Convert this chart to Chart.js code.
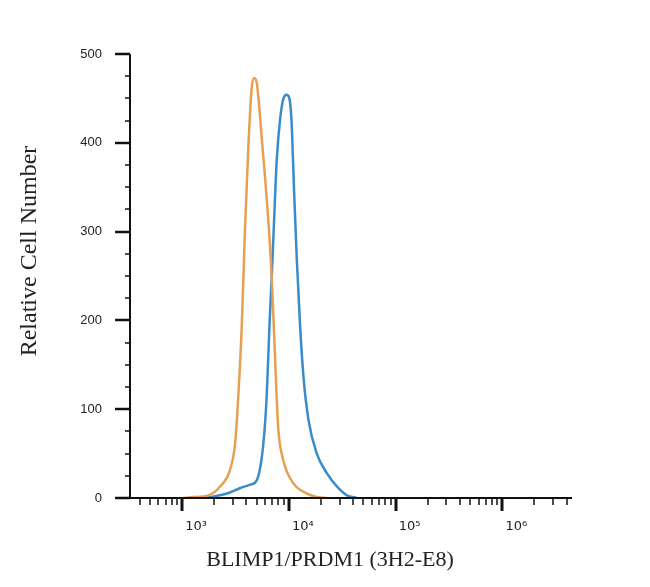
<!DOCTYPE html>
<html>
<head>
<meta charset="utf-8">
<script src="https://cdn.jsdelivr.net/npm/chart.js@4.4.1/dist/chart.umd.min.js"></script>
<style>
  html, body { margin: 0; padding: 0; background: #fff; }
  #wrap { width: 650px; height: 587px; position: relative; }
</style>
</head>
<body>
<div id="wrap"><canvas id="c"></canvas></div>
<script>
// isotype control (orange) - fluorescence intensity vs cell count
const isoX = [1020, 1259, 1766, 2270, 2818, 3141, 3373, 3622, 3890, 4188, 4498, 4732, 5012, 5623, 6397, 6918, 7447, 7943, 8851, 10965, 14791, 18621, 22387];
const isoY = [0, 1, 3, 13, 32, 62, 118, 193, 305, 399, 463, 473, 467, 400, 316, 249, 155, 80, 43, 17, 5, 1, 0];

// BLIMP1 stained (blue)
const blimpX = [1585, 1820, 2630, 3467, 4365, 5012, 5781, 6223, 6577, 6918, 7278, 7709, 8279, 8913, 9572, 10280, 10666, 11220, 11885, 12764, 13709, 15276, 18281, 22699, 28184, 34995, 43351];
const blimpY = [0, 1, 5, 11, 15, 20, 62, 118, 193, 249, 313, 381, 426, 450, 454, 445, 418, 343, 268, 193, 137, 88, 50, 28, 13, 3, 0];

const xTickValues = [1e3, 1e4, 1e5, 1e6];
const xTickLabels = ['10³', '10⁴', '10⁵', '10⁶'];
const yTickValues = [0, 100, 200, 300, 400, 500];
const xTitle = 'BLIMP1/PRDM1 (3H2-E8)';
const yTitle = 'Relative Cell Number';

const toPoints = (xs, ys) => xs.map((x, i) => ({ x: x, y: ys[i] }));

// axis lines, log minor ticks and titles
const axesPlugin = {
  id: 'axes',
  afterDraw(chart) {
    const { ctx, chartArea: a, scales } = chart;
    const xs = scales.x, ys = scales.y;
    ctx.save();
    ctx.strokeStyle = '#111';
    ctx.lineCap = 'butt';

    ctx.lineWidth = 2;
    ctx.beginPath();
    ctx.moveTo(a.left, a.top);
    ctx.lineTo(a.left, a.bottom + 1);
    ctx.moveTo(a.left - 1, a.bottom);
    ctx.lineTo(a.right, a.bottom);
    ctx.stroke();

    // y ticks every 25, major every 100
    for (let v = 0; v <= 500; v += 25) {
      const py = Math.round(ys.getPixelForValue(v));
      const major = v % 100 === 0;
      ctx.lineWidth = major ? 2.5 : 1.5;
      ctx.beginPath();
      ctx.moveTo(a.left - (major ? 15 : 5), py);
      ctx.lineTo(a.left, py);
      ctx.stroke();
    }

    // x log ticks
    for (let e = 2; e <= 6; e++) {
      for (let m = 1; m <= 9; m++) {
        const v = m * Math.pow(10, e);
        if (v < xs.min || v > xs.max) continue;
        const px = Math.round(xs.getPixelForValue(v));
        const major = m === 1;
        ctx.lineWidth = major ? 3 : 1.5;
        ctx.beginPath();
        ctx.moveTo(px, a.bottom);
        ctx.lineTo(px, a.bottom + (major ? 13 : 7));
        ctx.stroke();
      }
    }

    ctx.fillStyle = '#222';
    ctx.font = '22px "Liberation Serif", "Times New Roman", serif';
    ctx.textAlign = 'center';
    ctx.textBaseline = 'middle';
    ctx.fillText(xTitle, 330, 560);

    ctx.translate(30, 251);
    ctx.rotate(-Math.PI / 2);
    ctx.font = '24px "Liberation Serif", "Times New Roman", serif';
    ctx.fillText(yTitle, 0, 0);
    ctx.restore();
  }
};

new Chart(document.getElementById('c'), {
  type: 'line',
  data: {
    datasets: [
      {
        label: 'Isotype',
        data: toPoints(isoX, isoY),
        borderColor: 'rgb(230, 160, 84)',
        borderWidth: 2.5,
        pointRadius: 0,
        cubicInterpolationMode: 'monotone',
        fill: false
      },
      {
        label: 'BLIMP1',
        data: toPoints(blimpX, blimpY),
        borderColor: 'rgb(58, 140, 200)',
        borderWidth: 2.5,
        pointRadius: 0,
        cubicInterpolationMode: 'monotone',
        fill: false
      }
    ]
  },
  options: {
    responsive: true,
    maintainAspectRatio: false,
    animation: false,
    layout: { padding: { top: 54, right: 78, left: 0, bottom: 0 } },
    plugins: { legend: { display: false }, tooltip: { enabled: false } },
    scales: {
      x: {
        type: 'logarithmic',
        min: 325,
        max: 4500000,
        grid: { display: false, drawTicks: false },
        border: { display: false },
        afterBuildTicks: (scale) => { scale.ticks = xTickValues.map(v => ({ value: v })); },
        afterFit: (scale) => { scale.height = 89; },
        ticks: {
          autoSkip: false,
          maxRotation: 0,
          padding: 21,
          labelOffset: 14,
          color: '#222',
          font: { family: '"DejaVu Sans", sans-serif', size: 13 },
          callback: (v) => {
            const i = xTickValues.indexOf(v);
            return i >= 0 ? xTickLabels[i] : '';
          }
        }
      },
      y: {
        min: 0,
        max: 500,
        grid: { display: false, drawTicks: false },
        border: { display: false },
        afterBuildTicks: (scale) => { scale.ticks = yTickValues.map(v => ({ value: v })); },
        afterFit: (scale) => { scale.width = 130; },
        ticks: {
          padding: 28,
          color: '#222',
          font: { family: '"Liberation Sans", Arial, sans-serif', size: 13 }
        }
      }
    }
  },
  plugins: [axesPlugin]
});
</script>
</body>
</html>
